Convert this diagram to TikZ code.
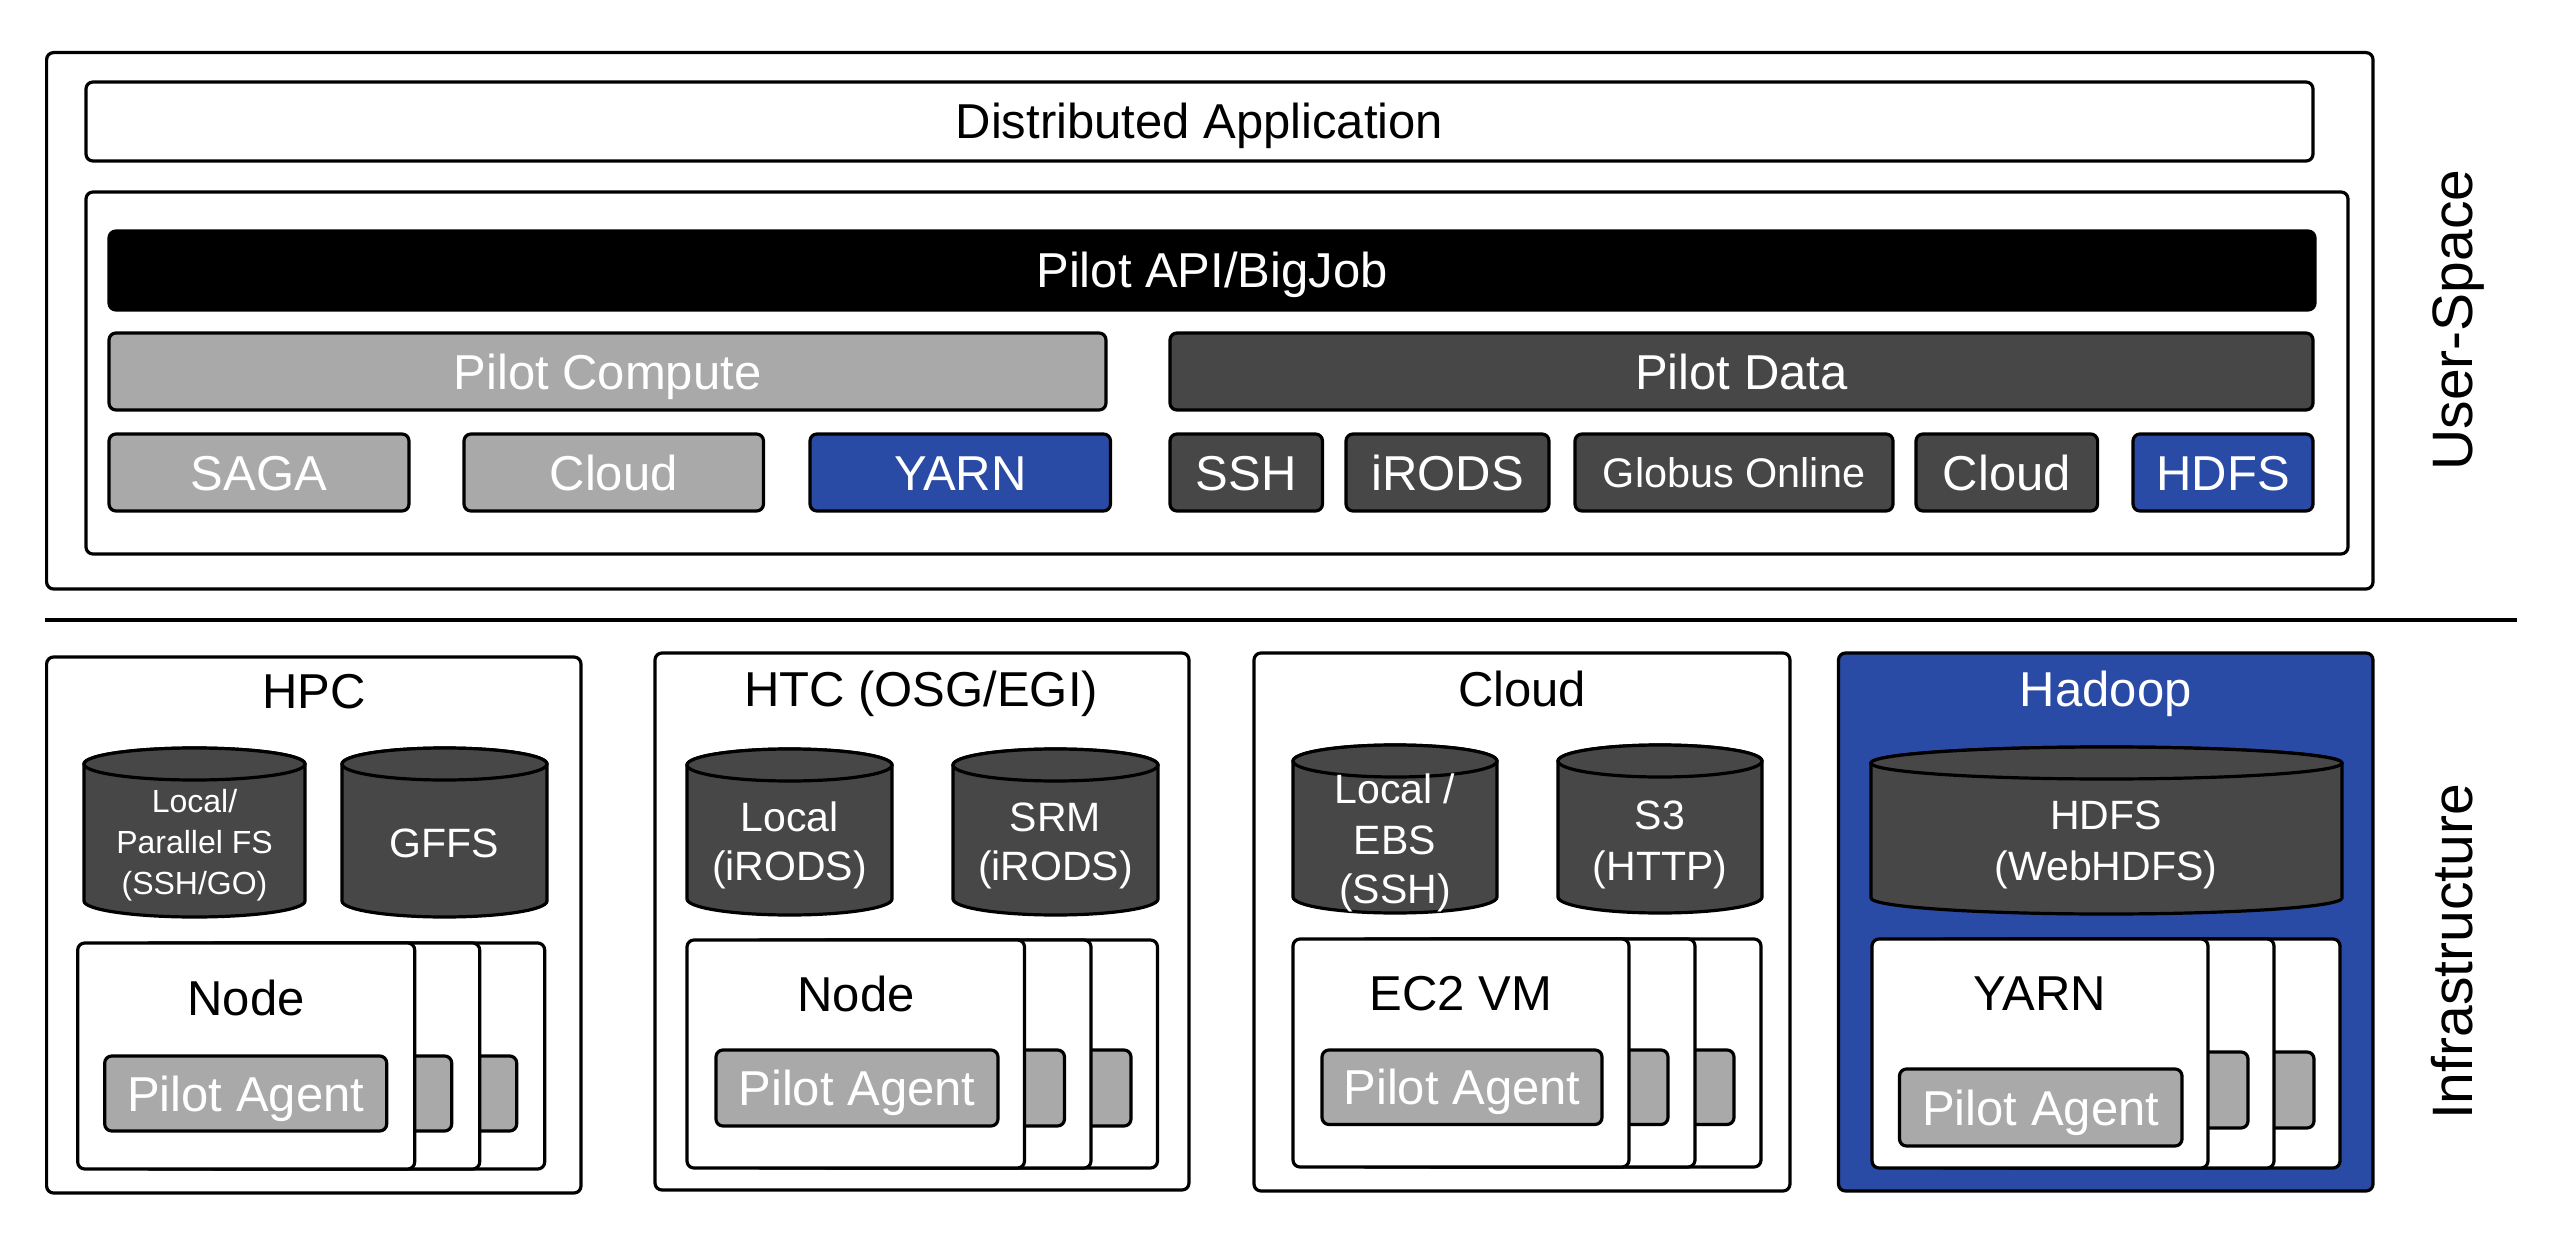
\documentclass[tikz,border=0pt]{standalone}
\usepackage{fontspec}
\setmainfont{Liberation Sans}
\definecolor{lgray}{HTML}{A9A9A9}
\definecolor{dgray}{HTML}{474747}
\definecolor{hblue}{HTML}{2A4BA5}
\tikzset{
  every node/.style={inner sep=0pt, outer sep=0pt},
  frame/.style={draw=black, line width=1.6pt, rounded corners=3.5pt},
  bigfont/.style={font=\fontsize{24.5}{29}\selectfont},
  boxlbl/.style={bigfont, text height=17.5pt, text depth=0pt},
  whitebox/.style={frame, fill=white, boxlbl},
  blackbox/.style={frame, fill=black, text=white, boxlbl},
  lightbox/.style={frame, fill=lgray, text=white, boxlbl},
  darkbox/.style={frame, fill=dgray, text=white, boxlbl},
  bluebox/.style={frame, fill=hblue, text=white, boxlbl},
  cardbox/.style={frame, fill=white},
  agentbox/.style={frame, fill=lgray, text=white, boxlbl},
  cylst/.style={draw=black, line width=1.6pt, fill=dgray},
  cyltxt/.style={text=white, font=\fontsize{20.5}{24}\selectfont, anchor=base},
  smalltxt/.style={text=white, font=\fontsize{16}{19}\selectfont, anchor=base},
  titletxt/.style={bigfont, anchor=base},
  sidetxt/.style={font=\fontsize{28.5}{34}\selectfont, rotate=90, text height=20.4pt, text depth=0pt}
}
% box node: style, name, x1, y1, x2, y2, text
\newcommand\bx[7]{%
  \pgfmathsetmacro\bxw{(#5-(#3))/2}%
  \pgfmathsetmacro\bxh{(#6-(#4))/2}%
  \pgfmathsetmacro\bxcx{((#3)+(#5))/2}%
  \pgfmathsetmacro\bxcy{((#4)+(#6))/2}%
  \node[#1, minimum width=\bxw pt, minimum height=\bxh pt] (#2) at (\bxcx,\bxcy) {#7};
}
% cylinder: name, x1, x2, y1, y2
\newcommand\mycyl[5]{%
  \pgfmathsetmacro\myrx{(#3-#2)/4}%
  \filldraw[cylst] (#2,#4+16) -- (#2,#5-16)
     arc[start angle=180,end angle=360,x radius=\myrx pt,y radius=8pt]
     -- (#3,#4+16)
     arc[start angle=0,end angle=180,x radius=\myrx pt,y radius=8pt] -- cycle;
  \draw[cylst] ({(#2+#3)/2},#4+16) ellipse[x radius=\myrx pt, y radius=8pt];
  \coordinate (#1) at ({(#2+#3)/2},{(#4+#5)/2});
}
\begin{document}
\begin{tikzpicture}[x=0.5pt,y=-0.5pt]
\useasboundingbox (0,0) rectangle (2566,1241);
\fill[white] (0,0) rectangle (2566,1241);

% ---------------- User space ----------------
\bx{frame}{usbox}{46.6}{52.6}{2373}{589}{}
\bx{whitebox}{distapp}{86}{82}{2313}{161}{Distributed Application}
\bx{frame}{pilotbox}{86}{192}{2348}{554}{}
\bx{blackbox}{api}{109}{231}{2315}{310}{Pilot API/BigJob}
\bx{lightbox}{pcompute}{109}{333}{1106}{410}{Pilot Compute}
\bx{darkbox}{pdata}{1170}{333}{2313}{410}{Pilot Data}
\bx{lightbox}{saga}{109}{434}{409}{511}{SAGA}
\bx{lightbox}{cloudc}{464}{434}{763.5}{511}{Cloud}
\bx{bluebox}{yarnc}{810}{434}{1110.5}{511}{YARN}
\bx{darkbox}{ssh}{1170}{434}{1322.5}{511}{SSH}
\bx{darkbox}{irods}{1346}{434}{1549}{511}{iRODS}
\bx{darkbox, font=\fontsize{20.7}{25}\selectfont, text height=14.8pt}{globus}{1575}{434}{1893}{511}{Globus Online}
\bx{darkbox}{cloudd}{1916}{434}{2097.6}{511}{Cloud}
\bx{bluebox}{hdfsd}{2133}{434}{2313}{511}{HDFS}
\node[sidetxt] (userspace) at (2452,320) {User-Space};

% separator
\coordinate (sepL) at (45,620);
\coordinate (sepR) at (2517,620);
\draw[line width=1.8pt] (sepL) -- (sepR);

% ---------------- Infrastructure ----------------
\node[sidetxt] (infra) at (2452,952) {Infrastructure};

% HPC
\bx{frame}{hpc}{46.6}{657}{581}{1193}{}
\node[titletxt] (hpct) at (313.8,708) {HPC};
\mycyl{hpccyl1}{84}{305}{748}{917}
\mycyl{hpccyl2}{342}{547}{748}{917}
\node[smalltxt] (hpcfs1) at (194.5,812.6) {Local/};
\node[smalltxt] (hpcfs2) at (194.5,853.5) {Parallel FS};
\node[smalltxt] (hpcfs3) at (194.5,894) {(SSH/GO)};
\node[cyltxt] (gffs) at (444.5,857.6) {GFFS};
\foreach \k in {2,1} {
  \bx{cardbox}{hpccard\k}{77.7+\k*65}{943}{414.7+\k*65}{1169}{}
  \bx{agentbox}{hpcag\k}{104.7+\k*65}{1056}{386.7+\k*65}{1131}{}
}
\bx{cardbox}{hpccard0}{77.7}{943}{414.7}{1169}{}
\node[titletxt] (hpcnode) at (246,1015) {Node};
\bx{agentbox}{hpcag0}{104.7}{1056}{386.7}{1131}{Pilot Agent}

% HTC
\bx{frame}{htc}{655}{653}{1189}{1190}{}
\node[titletxt] (htct) at (921,706) {HTC (OSG/EGI)};
\mycyl{htccyl1}{687}{892}{749}{915}
\mycyl{htccyl2}{953}{1158}{749}{915}
\node[cyltxt] (htcl1) at (789.5,831) {Local};
\node[cyltxt] (htcl2) at (789.5,880) {(iRODS)};
\node[cyltxt] (htcs1) at (1055.5,831) {SRM};
\node[cyltxt] (htcs2) at (1055.5,880) {(iRODS)};
\foreach \k in {2,1} {
  \bx{cardbox}{htccard\k}{687+\k*66.5}{940}{1024.5+\k*66.5}{1168}{}
  \bx{agentbox}{htcag\k}{716+\k*66.5}{1050}{998+\k*66.5}{1126}{}
}
\bx{cardbox}{htccard0}{687}{940}{1024.5}{1168}{}
\node[titletxt] (htcnode) at (856,1011) {Node};
\bx{agentbox}{htcag0}{716}{1050}{998}{1126}{Pilot Agent}

% Cloud
\bx{frame}{cloudi}{1254}{653}{1790}{1191}{}
\node[titletxt] (cloudt) at (1522,706) {Cloud};
\mycyl{cloudcyl1}{1293}{1497}{745}{913}
\mycyl{cloudcyl2}{1558}{1762}{745}{913}
\node[cyltxt] (ebs1) at (1395,803.6) {Local /};
\node[cyltxt] (ebs2) at (1395,854) {EBS};
\node[cyltxt] (ebs3) at (1395,903) {(SSH)};
\node[cyltxt] (s31) at (1660,829) {S3};
\node[cyltxt] (s32) at (1660,880) {(HTTP)};
\foreach \k in {2,1} {
  \bx{cardbox}{cloudcard\k}{1293+\k*66}{939}{1629+\k*66}{1167}{}
  \bx{agentbox}{cloudag\k}{1322+\k*66}{1050}{1602+\k*66}{1124.5}{}
}
\bx{cardbox}{cloudcard0}{1293}{939}{1629}{1167}{}
\node[titletxt] (cloudnode) at (1461,1010) {EC2 VM};
\bx{agentbox}{cloudag0}{1322}{1050}{1602}{1124.5}{Pilot Agent}

% Hadoop
\bx{frame, fill=hblue}{hadoop}{1838.5}{653}{2373}{1191}{}
\node[titletxt, text=white] (hadoopt) at (2105.7,706) {Hadoop};
\mycyl{hdfscyl}{1871}{2342}{747}{914}
\node[cyltxt] (hdfs1) at (2106,829) {HDFS};
\node[cyltxt] (hdfs2) at (2106,880) {(WebHDFS)};
\foreach \k in {2,1} {
  \bx{cardbox}{hadcard\k}{1872+\k*66}{939}{2208+\k*66}{1168}{}
  \bx{agentbox}{hadag\k}{1899.5+\k*66}{1052}{2182+\k*66}{1128}{}
}
\bx{cardbox}{hadcard0}{1872}{939}{2208}{1168}{}
\node[titletxt] (hadnode) at (2040,1010) {YARN};
\bx{agentbox}{hadag0}{1899.5}{1069}{2182}{1146}{Pilot Agent}
\end{tikzpicture}
\end{document}
